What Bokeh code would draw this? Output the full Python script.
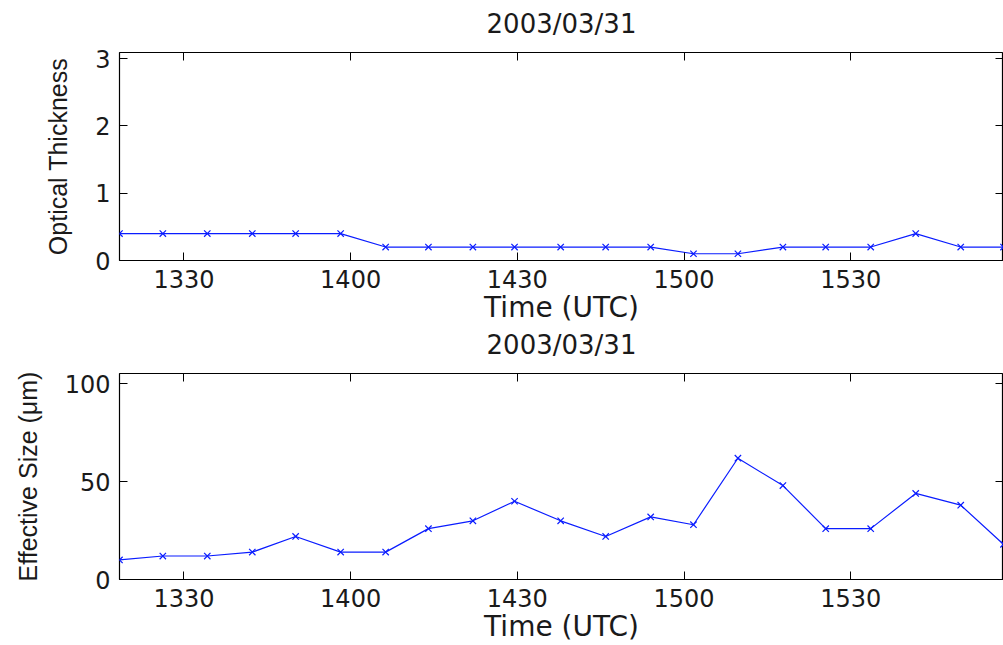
from bokeh.plotting import figure
from bokeh.layouts import column
from bokeh.models import LinearAxis, FixedTicker, Range1d
from bokeh.embed import file_html
from bokeh.resources import INLINE

# ---- data ----
date_title = "2003/03/31"
time_min = [798.4, 806.2, 814.2, 822.3, 830.1, 838.2, 846.3, 854.0, 862.0, 869.5,
            877.8, 885.9, 894.0, 901.7, 909.7, 917.8, 925.5, 933.6, 941.7, 949.8, 957.5]
optical_thickness = [0.4, 0.4, 0.4, 0.4, 0.4, 0.4, 0.2, 0.2, 0.2, 0.2,
                     0.2, 0.2, 0.2, 0.1, 0.1, 0.2, 0.2, 0.2, 0.4, 0.2, 0.2]
effective_size = [10, 12, 12, 14, 22, 14, 14, 26, 30, 40,
                  30, 22, 32, 28, 62, 48, 26, 26, 44, 38, 18]
x_tick_values = [810, 840, 870, 900, 930]
x_tick_labels = ["1330", "1400", "1430", "1500", "1530"]
top_y_ticks = [0, 1, 2, 3]
bottom_y_ticks = [0, 50, 100]

LINE = "#0a1cff"
TXT = "#1a1a1a"
HFONT = "DejaVu Sans"
VFONT = "Liberation Sans"


def style(p, yticks, ylabel, ylabel_standoff):
    p.outline_line_color = "black"
    p.outline_line_width = 1.2
    p.xgrid.visible = False
    p.ygrid.visible = False
    p.background_fill_color = "white"
    p.border_fill_color = "white"

    xa = p.xaxis[0]
    xa.ticker = FixedTicker(ticks=x_tick_values)
    xa.major_label_overrides = {v: s for v, s in zip(x_tick_values, x_tick_labels)}
    xa.axis_label = "Time (UTC)"
    ya = p.yaxis[0]
    ya.ticker = FixedTicker(ticks=yticks)
    ya.axis_label = ylabel
    for ax in (xa, ya):
        ax.major_tick_in = 8
        ax.major_tick_out = 0
        ax.minor_tick_line_color = None
        ax.axis_line_color = None
        ax.major_tick_line_color = "black"
        ax.major_label_text_font = HFONT
        ax.major_label_text_font_size = "24px"
        ax.major_label_text_color = TXT
        ax.major_label_standoff = 9
        ax.axis_label_text_font_style = "normal"
        ax.axis_label_text_color = TXT
    xa.axis_label_text_font = HFONT
    xa.axis_label_text_font_size = "28px"
    xa.axis_label_standoff = 0
    ya.axis_label_text_font = VFONT
    ya.axis_label_text_font_size = "25px"
    ya.axis_label_standoff = ylabel_standoff

    # mirrored ticks on top and right (box style), without tick labels;
    # the top one carries the panel title
    for loc, tk in (("above", x_tick_values), ("right", yticks)):
        ax = LinearAxis(ticker=FixedTicker(ticks=tk))
        ax.major_tick_in = 8
        ax.major_tick_out = 0
        ax.minor_tick_line_color = None
        ax.axis_line_color = None
        ax.major_tick_line_color = "black"
        ax.major_label_overrides = {v: "" for v in tk}
        ax.major_label_text_font_size = "1px"
        ax.major_label_standoff = 0
        if loc == "above":
            ax.axis_label = date_title
            ax.axis_label_text_font = HFONT
            ax.axis_label_text_font_size = "26px"
            ax.axis_label_text_font_style = "normal"
            ax.axis_label_text_color = TXT
            ax.axis_label_standoff = 14
        p.add_layout(ax, loc)


p1 = figure(width=1003, height=326,
            x_range=Range1d(time_min[0], time_min[-1]), y_range=Range1d(0, 3.09),
            output_backend="svg", toolbar_location=None,
            min_border_left=119, min_border_right=0, min_border_top=52, min_border_bottom=64)
p1.line(time_min, optical_thickness, line_color=LINE, line_width=1.2)
p1.scatter(time_min, optical_thickness, marker="x", size=9, line_color=LINE, line_width=1.2)
style(p1, top_y_ticks, "Optical Thickness", 20)

p2 = figure(width=1003, height=319,
            x_range=Range1d(time_min[0], time_min[-1]), y_range=Range1d(0, 105.3),
            output_backend="svg", toolbar_location=None,
            min_border_left=119, min_border_right=0, min_border_top=46, min_border_bottom=65)
p2.line(time_min, effective_size, line_color=LINE, line_width=1.2)
p2.scatter(time_min, effective_size, marker="x", size=9, line_color=LINE, line_width=1.2)
style(p2, bottom_y_ticks, "Effective Size (μm)", 20)

layout = column(p1, p2, spacing=0)
open("out.html", "w").write(file_html(layout, INLINE))
